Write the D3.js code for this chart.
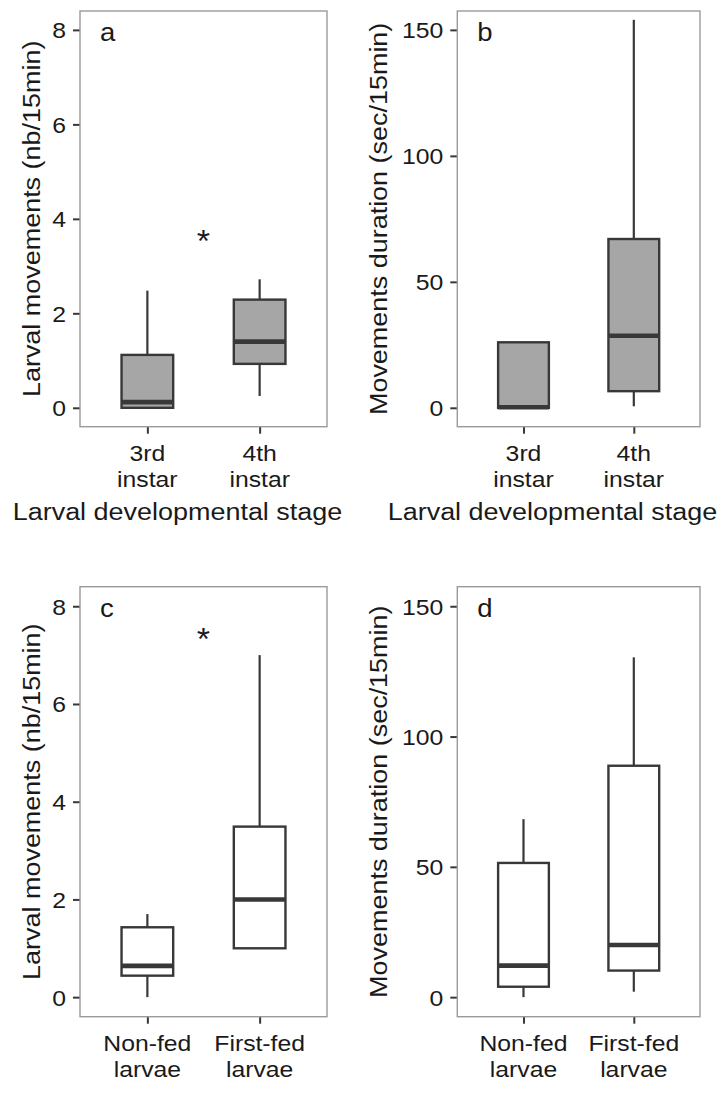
<!DOCTYPE html>
<html>
<head>
<meta charset="utf-8">
<script src="https://cdn.jsdelivr.net/npm/d3@7"></script>
<style>
  html, body { margin: 0; padding: 0; background: #fff; }
  svg { display: block; font-family: "Liberation Sans", Arial, sans-serif; }
</style>
</head>
<body>
<svg id="fig" width="718" height="1100"></svg>
<script>
// ---- data ---------------------------------------------------------------
const stageCategories = ["3rd instar", "4th instar"];
const stageTickLines = [["3rd", "instar"], ["4th", "instar"]];
const feedCategories = ["Non-fed larvae", "First-fed larvae"];
const feedTickLines = [["Non-fed", "larvae"], ["First-fed", "larvae"]];

const movementTicks = [0, 2, 4, 6, 8];
const durationTicks = [0, 50, 100, 150];

// box statistics: lower whisker, Q1, median, Q3, upper whisker
const movesStageLow = [0, 0.25];
const movesStageQ1 = [0, 0.93];
const movesStageMed = [0.12, 1.40];
const movesStageQ3 = [1.12, 2.29];
const movesStageHigh = [2.48, 2.72];

const durStageLow = [0, 0.6];
const durStageQ1 = [0, 6.6];
const durStageMed = [0.2, 28.6];
const durStageQ3 = [26, 67];
const durStageHigh = [26, 154];

const movesFeedLow = [0, 1.0];
const movesFeedQ1 = [0.44, 1.0];
const movesFeedMed = [0.64, 2.0];
const movesFeedQ3 = [1.43, 3.49];
const movesFeedHigh = [1.70, 7.0];

const durFeedLow = [0, 2.1];
const durFeedQ1 = [4.0, 10.2];
const durFeedMed = [12.1, 20.0];
const durFeedQ3 = [51.5, 88.8];
const durFeedHigh = [68.3, 130.4];

// height of the significance star (null = none)
const starStage = [3.65, null];
const starFeed = [7.45, null];

// ---- drawing ------------------------------------------------------------
const svg = d3.select("#fig");
const STRETCH = 1.1;
const INK = "#1a1a1a";
const LINE = "#383838";

function label(g, text, x, y, size, anchor, angle) {
  return g.append("text")
    .attr("transform", `translate(${x},${y}) rotate(${angle || 0}) scale(${STRETCH},1)`)
    .attr("text-anchor", anchor)
    .attr("font-size", size)
    .attr("fill", INK)
    .text(text);
}

function panel(opt) {
  const { x0, x1, y0, y1, cats, tickLines, ticks, domain, low, q1, med, q3, high,
          fill, letter, yTitle, yTitleX, xTitle, xTitleX, star } = opt;
  const g = svg.append("g");

  const x = d3.scalePoint().domain(cats).range([x0, x1]).padding(0.6);
  const y = d3.scaleLinear().domain(domain).range([y1, y0]);
  const bw = x.step() * 0.46;

  // y axis
  const yAxis = g.append("g")
    .attr("transform", `translate(${x0},0)`)
    .call(d3.axisLeft(y).tickValues(ticks).tickSize(7).tickPadding(0));
  yAxis.select(".domain").remove();
  yAxis.selectAll(".tick line").attr("stroke", LINE).attr("stroke-width", 2);
  yAxis.selectAll(".tick text")
    .attr("x", null).attr("dy", "0.35em")
    .attr("transform", `translate(-14,0) scale(${STRETCH},1)`)
    .attr("font-size", 22.5).attr("fill", INK)
    .attr("font-family", "Liberation Sans, Arial, sans-serif");

  // x axis ticks and two-line category labels
  const xAxis = g.append("g")
    .attr("transform", `translate(0,${y1})`)
    .call(d3.axisBottom(x).tickSize(7).tickFormat(""));
  xAxis.select(".domain").remove();
  xAxis.selectAll(".tick line").attr("stroke", LINE).attr("stroke-width", 2);
  cats.forEach((c, i) => {
    tickLines[i].forEach((t, j) => {
      label(g, t, x(c), y1 + 34 + j * 26, 22.5, "middle");
    });
  });

  // boxes
  const boxes = g.append("g");
  cats.forEach((c, i) => {
    const cx = x(c);
    if (high[i] > q3[i]) {
      boxes.append("line").attr("x1", cx).attr("x2", cx)
        .attr("y1", y(q3[i])).attr("y2", y(high[i]))
        .attr("stroke", LINE).attr("stroke-width", 2.2);
    }
    if (low[i] < q1[i]) {
      boxes.append("line").attr("x1", cx).attr("x2", cx)
        .attr("y1", y(q1[i])).attr("y2", y(low[i]))
        .attr("stroke", LINE).attr("stroke-width", 2.2);
    }
    boxes.append("rect")
      .attr("x", cx - bw / 2).attr("width", bw)
      .attr("y", y(q3[i])).attr("height", y(q1[i]) - y(q3[i]))
      .attr("fill", fill).attr("stroke", LINE).attr("stroke-width", 2.4);
    boxes.append("line")
      .attr("x1", cx - bw / 2).attr("x2", cx + bw / 2)
      .attr("y1", y(med[i])).attr("y2", y(med[i]))
      .attr("stroke", LINE).attr("stroke-width", 4.6);
  });

  // panel border
  g.append("rect").attr("x", x0).attr("y", y0)
    .attr("width", x1 - x0).attr("height", y1 - y0)
    .attr("fill", "none").attr("stroke", "#9a9a9a").attr("stroke-width", 1.4);

  // significance star between the two groups
  if (star != null) {
    label(g, "*", (x(cats[0]) + x(cats[1])) / 2, y(star) + 17, 31, "middle");
  }

  // panel letter
  label(g, letter, x0 + 20, y0 + 30, 25, "start");

  // axis titles
  label(g, yTitle, yTitleX, (y0 + y1) / 2, 24.5, "middle", -90);
  if (xTitle) label(g, xTitle, xTitleX, y1 + 93, 24.5, "middle");
}

const movesDomain = [-0.4, 8.4];
const durDomain = [-7.5, 157.5];
const GREY = "#a6a6a6";

panel({ x0: 80, x1: 327, y0: 11, y1: 426.7, cats: stageCategories, tickLines: stageTickLines,
  ticks: movementTicks, domain: movesDomain,
  low: movesStageLow, q1: movesStageQ1, med: movesStageMed, q3: movesStageQ3, high: movesStageHigh,
  fill: GREY, letter: "a", yTitle: "Larval movements (nb/15min)", yTitleX: 40,
  xTitle: "Larval developmental stage", xTitleX: 177.5, star: starStage[0] });

panel({ x0: 457.3, x1: 700, y0: 11, y1: 426.7, cats: stageCategories, tickLines: stageTickLines,
  ticks: durationTicks, domain: durDomain,
  low: durStageLow, q1: durStageQ1, med: durStageMed, q3: durStageQ3, high: durStageHigh,
  fill: GREY, letter: "b", yTitle: "Movements duration (sec/15min)", yTitleX: 386.7,
  xTitle: "Larval developmental stage", xTitleX: 552.5, star: starStage[1] });

panel({ x0: 80, x1: 327, y0: 586.7, y1: 1016.7, cats: feedCategories, tickLines: feedTickLines,
  ticks: movementTicks, domain: movesDomain,
  low: movesFeedLow, q1: movesFeedQ1, med: movesFeedMed, q3: movesFeedQ3, high: movesFeedHigh,
  fill: "#ffffff", letter: "c", yTitle: "Larval movements (nb/15min)", yTitleX: 40,
  xTitle: null, star: starFeed[0] });

panel({ x0: 457.3, x1: 700, y0: 586.7, y1: 1016.7, cats: feedCategories, tickLines: feedTickLines,
  ticks: durationTicks, domain: durDomain,
  low: durFeedLow, q1: durFeedQ1, med: durFeedMed, q3: durFeedQ3, high: durFeedHigh,
  fill: "#ffffff", letter: "d", yTitle: "Movements duration (sec/15min)", yTitleX: 386.7,
  xTitle: null, star: starFeed[1] });
</script>
</body>
</html>
